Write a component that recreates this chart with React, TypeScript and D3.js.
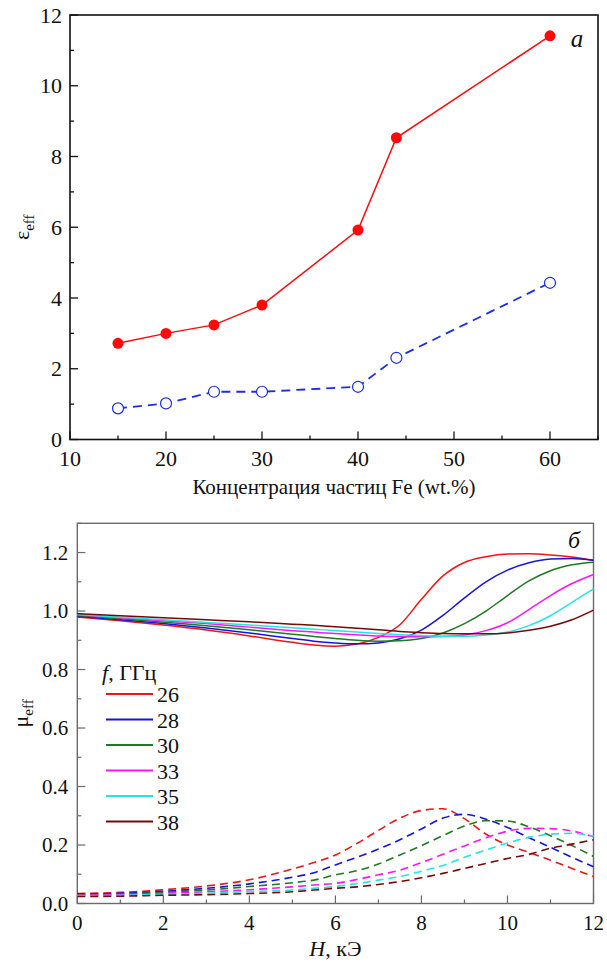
import React, { useRef, useEffect } from "react";
import * as d3 from "d3";

// panel a: permittivity vs Fe concentration
const conc = [15, 20, 25, 30, 40, 44, 60];
const epsReal = [2.72, 3.0, 3.24, 3.8, 5.92, 8.53, 11.41];
const epsImag = [0.88, 1.02, 1.35, 1.35, 1.49, 2.31, 4.43];
const concTicks = [10, 20, 30, 40, 50, 60];
const epsTicks = [0, 2, 4, 6, 8, 10, 12];

// panel b: permeability vs field, one curve per frequency
const field = [0, 1, 2, 3, 4, 5, 5.5, 6, 6.5, 7, 7.5, 8, 8.5, 9, 9.5, 10, 10.5, 11, 11.5, 12];
const freqs = ["26", "28", "30", "33", "35", "38"];
const freqColors = ["#f01414", "#1414e0", "#1e7a1e", "#ff14ff", "#22e6e6", "#780808"];

const muReal26 = [0.98, 0.967, 0.952, 0.935, 0.915, 0.893, 0.884, 0.88, 0.887, 0.91, 0.953, 1.04, 1.12, 1.166, 1.186, 1.195, 1.196, 1.192, 1.185, 1.173];
const muReal28 = [0.982, 0.97, 0.957, 0.942, 0.925, 0.906, 0.897, 0.891, 0.888, 0.891, 0.905, 0.935, 0.985, 1.045, 1.1, 1.14, 1.165, 1.178, 1.18, 1.174];
const muReal30 = [0.985, 0.974, 0.962, 0.95, 0.936, 0.921, 0.913, 0.906, 0.9, 0.897, 0.898, 0.906, 0.925, 0.957, 1.0, 1.053, 1.103, 1.138, 1.158, 1.167];
const muReal33 = [0.987, 0.977, 0.967, 0.957, 0.945, 0.933, 0.928, 0.923, 0.919, 0.915, 0.913, 0.912, 0.913, 0.918, 0.933, 0.96, 1.005, 1.053, 1.094, 1.125];
const muReal35 = [0.988, 0.979, 0.97, 0.961, 0.952, 0.943, 0.938, 0.933, 0.928, 0.923, 0.919, 0.916, 0.914, 0.914, 0.918, 0.928, 0.95, 0.984, 1.03, 1.076];
const muReal38 = [0.991, 0.984, 0.977, 0.97, 0.963, 0.955, 0.951, 0.946, 0.941, 0.936, 0.93, 0.926, 0.923, 0.922, 0.922, 0.925, 0.934, 0.948, 0.97, 1.003];

const muImag26 = [0.034, 0.038, 0.047, 0.06, 0.081, 0.118, 0.14, 0.166, 0.205, 0.25, 0.292, 0.318, 0.324, 0.29, 0.237, 0.2, 0.175, 0.148, 0.12, 0.092];
const muImag28 = [0.032, 0.035, 0.042, 0.052, 0.067, 0.09, 0.105, 0.132, 0.158, 0.186, 0.218, 0.255, 0.292, 0.305, 0.288, 0.26, 0.225, 0.192, 0.158, 0.126];
const muImag30 = [0.03, 0.032, 0.038, 0.046, 0.058, 0.071, 0.08, 0.098, 0.112, 0.135, 0.166, 0.198, 0.232, 0.265, 0.283, 0.282, 0.262, 0.232, 0.198, 0.161];
const muImag33 = [0.028, 0.03, 0.034, 0.04, 0.047, 0.057, 0.063, 0.069, 0.082, 0.098, 0.114, 0.14, 0.168, 0.197, 0.225, 0.247, 0.257, 0.256, 0.248, 0.228];
const muImag35 = [0.026, 0.028, 0.031, 0.035, 0.041, 0.046, 0.052, 0.058, 0.068, 0.08, 0.092, 0.11, 0.13, 0.158, 0.183, 0.207, 0.226, 0.237, 0.24, 0.23];
const muImag38 = [0.024, 0.025, 0.028, 0.03, 0.034, 0.04, 0.046, 0.052, 0.057, 0.065, 0.075, 0.088, 0.103, 0.12, 0.137, 0.154, 0.168, 0.189, 0.203, 0.218];

const muRealSeries = [muReal26, muReal28, muReal30, muReal33, muReal35, muReal38];
const muImagSeries = [muImag26, muImag28, muImag30, muImag33, muImag35, muImag38];
const fieldTicks = [0, 2, 4, 6, 8, 10, 12];
const muTicks = [0, 0.2, 0.4, 0.6, 0.8, 1.0, 1.2];

const FONT = "Liberation Serif, DejaVu Serif, Times New Roman, Times, serif";

const App = () => {
  const svgRef = useRef(null);

  useEffect(() => {
    const svg = d3.select(svgRef.current);
    svg.selectAll("*").remove();

    // ---------- panel a ----------
    const a = { left: 70, right: 598, top: 15, bottom: 439.5 };
    const xA = d3.scaleLinear().domain([10, 65]).range([a.left, a.right]);
    const yA = d3.scaleLinear().domain([0, 12]).range([a.bottom, a.top]);

    const gA = svg.append("g");

    // inward ticks on bottom and left
    d3.range(10, 65.1, 5).forEach((t) => {
      const major = t % 10 === 0;
      gA.append("line")
        .attr("x1", xA(t)).attr("x2", xA(t))
        .attr("y1", a.bottom).attr("y2", a.bottom - (major ? 8 : 4))
        .attr("stroke", "#111").attr("stroke-width", 1.3);
    });
    d3.range(0, 12.1, 1).forEach((t) => {
      const major = t % 2 === 0;
      gA.append("line")
        .attr("x1", a.left).attr("x2", a.left + (major ? 8 : 4))
        .attr("y1", yA(t)).attr("y2", yA(t))
        .attr("stroke", "#111").attr("stroke-width", 1.3);
    });

    gA.append("rect")
      .attr("x", a.left).attr("y", a.top)
      .attr("width", a.right - a.left).attr("height", a.bottom - a.top)
      .attr("fill", "none").attr("stroke", "#111").attr("stroke-width", 1.6);

    gA.selectAll(".xl").data(concTicks).enter().append("text")
      .attr("x", (d) => xA(d)).attr("y", a.bottom + 26.5)
      .attr("text-anchor", "middle").style("font-family", FONT).attr("font-size", 22)
      .attr("fill", "#111").text((d) => d);

    gA.selectAll(".yl").data(epsTicks).enter().append("text")
      .attr("x", a.left - 8).attr("y", (d) => yA(d)).attr("dy", "0.35em")
      .attr("text-anchor", "end").style("font-family", FONT).attr("font-size", 22)
      .attr("fill", "#111").text((d) => d);

    gA.append("text")
      .attr("x", (a.left + a.right) / 2).attr("y", 494)
      .attr("text-anchor", "middle").style("font-family", FONT).attr("font-size", 21)
      .attr("fill", "#111").text("Концентрация частиц Fe (wt.%)");

    const epsLabel = gA.append("text")
      .attr("transform", `translate(29,${(a.top + a.bottom) / 2}) rotate(-90)`)
      .attr("text-anchor", "middle").style("font-family", FONT).attr("font-size", 22)
      .attr("fill", "#111");
    epsLabel.append("tspan").text("ε");
    epsLabel.append("tspan").attr("font-size", 15).attr("dy", 5).text("eff");

    gA.append("text")
      .attr("x", 577).attr("y", 47)
      .attr("text-anchor", "middle").style("font-family", FONT).attr("font-size", 25)
      .attr("font-style", "italic").attr("fill", "#111").text("а");

    const lineA = d3.line().x((d) => xA(d[0])).y((d) => yA(d[1]));
    const realPts = conc.map((c, i) => [c, epsReal[i]]);
    const imagPts = conc.map((c, i) => [c, epsImag[i]]);

    gA.append("path").attr("d", lineA(imagPts))
      .attr("fill", "none").attr("stroke", "#1a2ee6").attr("stroke-width", 1.8)
      .attr("stroke-dasharray", "9,6");
    gA.selectAll(".oc").data(imagPts).enter().append("circle")
      .attr("cx", (d) => xA(d[0])).attr("cy", (d) => yA(d[1])).attr("r", 5.5)
      .attr("fill", "#fff").attr("stroke", "#1a2ee6").attr("stroke-width", 1.2);

    gA.append("path").attr("d", lineA(realPts))
      .attr("fill", "none").attr("stroke", "#ff0a0a").attr("stroke-width", 1.5);
    gA.selectAll(".fc").data(realPts).enter().append("circle")
      .attr("cx", (d) => xA(d[0])).attr("cy", (d) => yA(d[1])).attr("r", 5.5)
      .attr("fill", "#ff0a0a");

    // ---------- panel b ----------
    const b = { left: 77.3, right: 593.5, top: 523.3, bottom: 903.5 };
    const xB = d3.scaleLinear().domain([0, 12]).range([b.left, b.right]);
    const yB = d3.scaleLinear().domain([0, 1.3]).range([b.bottom, b.top]);
    const gB = svg.append("g");
    const axisGray = "#6a6a6a";

    d3.range(0, 12.1, 1).forEach((t) => {
      const major = t % 2 === 0;
      gB.append("line")
        .attr("x1", xB(t)).attr("x2", xB(t))
        .attr("y1", b.bottom).attr("y2", b.bottom - (major ? 8 : 4))
        .attr("stroke", axisGray).attr("stroke-width", 1.2);
    });
    d3.range(0, 1.31, 0.1).forEach((t, i) => {
      const major = i % 2 === 0;
      gB.append("line")
        .attr("x1", b.left).attr("x2", b.left + (major ? 8 : 4))
        .attr("y1", yB(t)).attr("y2", yB(t))
        .attr("stroke", axisGray).attr("stroke-width", 1.2);
    });

    gB.append("rect")
      .attr("x", b.left).attr("y", b.top)
      .attr("width", b.right - b.left).attr("height", b.bottom - b.top)
      .attr("fill", "none").attr("stroke", axisGray).attr("stroke-width", 1.4);

    gB.selectAll(".xl").data(fieldTicks).enter().append("text")
      .attr("x", (d) => xB(d)).attr("y", b.bottom + 26)
      .attr("text-anchor", "middle").style("font-family", FONT).attr("font-size", 21)
      .attr("fill", "#111").text((d) => d);

    gB.selectAll(".yl").data(muTicks).enter().append("text")
      .attr("x", b.left - 9).attr("y", (d) => yB(d)).attr("dy", "0.35em")
      .attr("text-anchor", "end").style("font-family", FONT).attr("font-size", 21)
      .attr("fill", "#111").text((d) => d3.format(".1f")(d));

    const hLabel = gB.append("text")
      .attr("x", (b.left + b.right) / 2).attr("y", 956)
      .attr("text-anchor", "middle").style("font-family", FONT).attr("font-size", 22)
      .attr("fill", "#111");
    hLabel.append("tspan").attr("font-style", "italic").text("H");
    hLabel.append("tspan").text(", кЭ");

    const muLabel = gB.append("text")
      .attr("transform", `translate(28,${(b.top + b.bottom) / 2}) rotate(-90)`)
      .attr("text-anchor", "middle").style("font-family", FONT).attr("font-size", 22)
      .attr("fill", "#111");
    muLabel.append("tspan").text("μ");
    muLabel.append("tspan").attr("font-size", 15).attr("dy", 5).text("eff");

    gB.append("text")
      .attr("x", 574).attr("y", 548)
      .attr("text-anchor", "middle").style("font-family", FONT).attr("font-size", 24)
      .attr("font-style", "italic").attr("fill", "#111").text("б");

    const lineB = d3.line()
      .x((d) => xB(d[0])).y((d) => yB(d[1]))
      .curve(d3.curveMonotoneX);

    muImagSeries.forEach((vals, i) => {
      gB.append("path").attr("d", lineB(field.map((h, j) => [h, vals[j]])))
        .attr("fill", "none").attr("stroke", freqColors[i]).attr("stroke-width", 1.6)
        .attr("stroke-dasharray", "8,5");
    });
    muRealSeries.forEach((vals, i) => {
      gB.append("path").attr("d", lineB(field.map((h, j) => [h, vals[j]])))
        .attr("fill", "none").attr("stroke", freqColors[i]).attr("stroke-width", 1.5);
    });

    // legend
    const legTitle = gB.append("text")
      .attr("x", 102).attr("y", 680)
      .style("font-family", FONT).attr("font-size", 22).attr("fill", "#111");
    legTitle.append("tspan").attr("font-style", "italic").text("f");
    legTitle.append("tspan").text(", ГГц");

    freqs.forEach((f, i) => {
      const y = 694 + i * 25.5;
      gB.append("line")
        .attr("x1", 106).attr("x2", 153).attr("y1", y).attr("y2", y)
        .attr("stroke", freqColors[i]).attr("stroke-width", 2);
      gB.append("text")
        .attr("x", 157).attr("y", y + 8)
        .style("font-family", FONT).attr("font-size", 22).attr("fill", "#111")
        .text(f);
    });
  }, []);

  return (
    <svg
      ref={svgRef}
      width={607}
      height={965}
      style={{ position: "absolute", left: 0, top: 0, background: "#fff" }}
    ></svg>
  );
};

export default App;
